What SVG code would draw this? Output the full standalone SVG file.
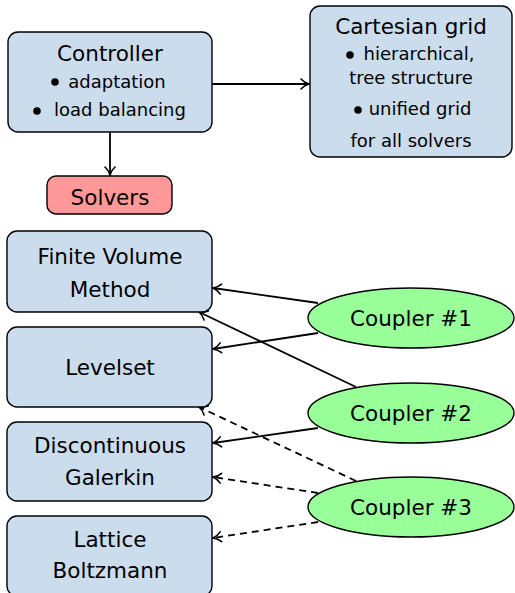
<svg xmlns="http://www.w3.org/2000/svg" width="515" height="593" viewBox="0 0 515 593">
  <style>
    .box { fill: #cbdcec; stroke: #000; stroke-width: 1.4; }
    .solver { fill: #ff9999; stroke: #000; stroke-width: 1.4; }
    .coupler { fill: #99ff99; stroke: #000; stroke-width: 1.4; }
    .title { font-family: "DejaVu Sans", sans-serif; font-size: 21.5px; fill: #000; text-anchor: middle; }
    .item { font-family: "DejaVu Sans", sans-serif; font-size: 18px; fill: #000; text-anchor: middle; }
    .dot { fill: #000; }
    .edge { fill: none; stroke: #000; stroke-width: 1.8; marker-end: url(#tip); }
    .dashed { stroke-dasharray: 7 5; }
  </style>
  <defs>
    <marker id="tip" markerUnits="userSpaceOnUse" viewBox="-10 -7 11 14" refX="0" refY="0" markerWidth="11" markerHeight="14" orient="auto">
      <path d="M -8 -5 C -5.5 -2.2 -2.2 -0.6 0 0 C -2.2 0.6 -5.5 2.2 -8 5" fill="none" stroke="#000" stroke-width="1.6" stroke-linecap="round"/>
    </marker>
  </defs>

  <!-- connectors -->
  <g id="connectors">
    <line class="edge" x1="212" y1="84" x2="309" y2="84"/>
    <line class="edge" x1="110" y1="132" x2="110" y2="175"/>
    <line class="edge" x1="318" y1="303" x2="213" y2="288"/>
    <line class="edge" x1="318" y1="333" x2="213" y2="349"/>
    <line class="edge" x1="356" y1="387" x2="199" y2="312"/>
    <line class="edge" x1="318" y1="428" x2="213" y2="443"/>
    <line class="edge dashed" x1="356" y1="481" x2="199" y2="407"/>
    <line class="edge dashed" x1="318" y1="493" x2="213" y2="477"/>
    <line class="edge dashed" x1="318" y1="522" x2="213" y2="538"/>
  </g>

  <!-- controller -->
  <g id="controller">
    <rect class="box" x="8" y="32" width="204" height="100" rx="10"/>
    <text class="title" x="110" y="61">Controller</text>
    <circle class="dot" cx="55" cy="82" r="3.8"/>
    <text class="item" x="117" y="88">adaptation</text>
    <circle class="dot" cx="37" cy="111" r="3.8"/>
    <text class="item" x="120" y="116">load balancing</text>
  </g>

  <!-- cartesian grid -->
  <g id="grid">
    <rect class="box" x="310" y="6" width="202" height="151" rx="10"/>
    <text class="title" x="411" y="34">Cartesian grid</text>
    <circle class="dot" cx="350" cy="55" r="3.8"/>
    <text class="item" x="419" y="60">hierarchical,</text>
    <text class="item" x="411" y="84">tree structure</text>
    <circle class="dot" cx="358" cy="110" r="3.8"/>
    <text class="item" x="420" y="115">unified grid</text>
    <text class="item" x="411" y="147">for all solvers</text>
  </g>

  <!-- solvers -->
  <g id="solvers">
    <rect class="solver" x="47" y="176" width="125" height="38" rx="9"/>
    <text class="title" x="110" y="205">Solvers</text>
  </g>

  <!-- solver modules -->
  <g id="fvm">
    <rect class="box" x="7" y="231" width="205" height="81" rx="10"/>
    <text class="title" x="110" y="264">Finite Volume</text>
    <text class="title" x="110" y="297">Method</text>
  </g>
  <g id="levelset">
    <rect class="box" x="7" y="327" width="205" height="80" rx="10"/>
    <text class="title" x="110" y="375">Levelset</text>
  </g>
  <g id="dg">
    <rect class="box" x="7" y="422" width="205" height="79" rx="10"/>
    <text class="title" x="110" y="453">Discontinuous</text>
    <text class="title" x="110" y="485">Galerkin</text>
  </g>
  <g id="lbm">
    <rect class="box" x="7" y="516" width="205" height="80" rx="10"/>
    <text class="title" x="110" y="547">Lattice</text>
    <text class="title" x="110" y="578">Boltzmann</text>
  </g>

  <!-- couplers -->
  <g id="coupler1">
    <ellipse class="coupler" cx="411" cy="318" rx="103" ry="30"/>
    <text class="title" x="411" y="326" font-size="22">Coupler #1</text>
  </g>
  <g id="coupler2">
    <ellipse class="coupler" cx="411" cy="413" rx="103" ry="30"/>
    <text class="title" x="411" y="421" font-size="22">Coupler #2</text>
  </g>
  <g id="coupler3">
    <ellipse class="coupler" cx="411" cy="507" rx="103" ry="30"/>
    <text class="title" x="411" y="515" font-size="22">Coupler #3</text>
  </g>
</svg>
